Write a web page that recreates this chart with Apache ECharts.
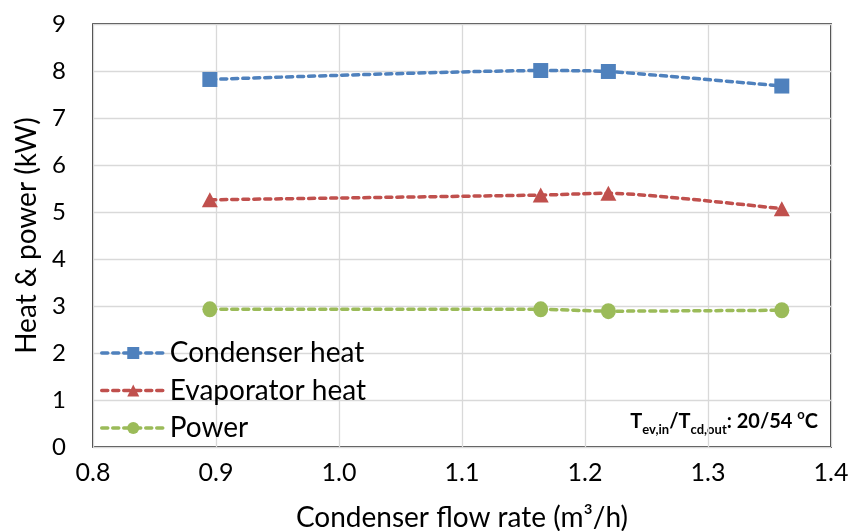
<!DOCTYPE html>
<html>
<head>
<meta charset="utf-8">
<script src="https://cdn.jsdelivr.net/npm/echarts@6/dist/echarts.min.js"></script>
<style>
  html, body { margin: 0; padding: 0; background: #fff; }
  #chart { width: 851px; height: 531px; }
</style>
</head>
<body>
<div id="chart"></div>
<script>
// Condenser flow rate (m3/h) for each test point
const flowRate = [0.895, 1.164, 1.219, 1.360];
// Measured heat and power (kW)
const condenserHeat = [7.82, 8.01, 7.99, 7.68];
const evaporatorHeat = [5.26, 5.36, 5.40, 5.07];
const power = [2.93, 2.93, 2.89, 2.91];

const seriesNames = ['Condenser heat', 'Evaporator heat', 'Power'];
const xTicks = { min: 0.8, max: 1.4, step: 0.1 };
const yTicks = { min: 0, max: 9, step: 1 };

const FONT = 'Lato';
const colors = ['#4F81BD', '#C0504D', '#9BBB59'];
const symbols = ['rect', 'triangle', 'circle'];
const symbolSizes = [[15, 15], [16, 15], [15, 16]];

function pairs(ys) { return flowRate.map((x, i) => [x, ys[i]]); }
const values = [condenserHeat, evaporatorHeat, power];

const chart = echarts.init(document.getElementById('chart'), null, { renderer: 'canvas' });

chart.setOption({
  animation: false,
  backgroundColor: '#fff',
  grid: {
    left: 93, top: 24, right: 20, bottom: 84,
    containLabel: false,
    outerBoundsMode: 'none',
    show: true, borderColor: '#000', borderWidth: 1.5
  },
  xAxis: {
    type: 'value',
    min: xTicks.min, max: xTicks.max, interval: xTicks.step,
    name: 'Condenser flow rate (m³/h)',
    nameLocation: 'middle', nameGap: 57,
    nameTextStyle: { fontFamily: FONT, fontSize: 28, color: '#000' },
    axisLine: { show: false },
    axisTick: { show: false },
    axisLabel: {
      fontFamily: FONT, fontSize: 25, color: '#000', margin: 13,
      formatter: v => v.toFixed(1)
    },
    splitLine: { show: true, lineStyle: { color: '#D9D9D9', width: 1.3 } }
  },
  yAxis: {
    type: 'value',
    min: yTicks.min, max: yTicks.max, interval: yTicks.step,
    name: 'Heat & power (kW)',
    nameLocation: 'middle', nameGap: 52,
    nameTextStyle: { fontFamily: FONT, fontSize: 28, color: '#000' },
    axisLine: { show: false },
    axisTick: { show: false },
    axisLabel: { fontFamily: FONT, fontSize: 24, color: '#000', margin: 27 },
    splitLine: { show: true, lineStyle: { color: '#D9D9D9', width: 1.3 } }
  },
  legend: {
    orient: 'vertical',
    left: 95, top: 334,
    itemWidth: 63, itemHeight: 15, itemGap: 9.5,
    lineStyle: { width: 3.5, type: [6, 5], cap: 'round' },
    textStyle: { fontFamily: FONT, fontSize: 28, color: '#000' },
    data: seriesNames
  },
  series: seriesNames.map((name, i) => ({
    name,
    type: 'line',
    data: pairs(values[i]),
    smooth: 0.2,
    symbol: symbols[i],
    symbolSize: symbolSizes[i],
    itemStyle: { color: colors[i] },
    lineStyle: { color: colors[i], width: 3.5, type: [6, 5], cap: 'round' },
    z: 3 - i
  })),
  graphic: [{
    type: 'text',
    right: 33, top: 408,
    style: {
      text: '{b|T}{s|ev,in}{b|/T}{s|cd,out}{b|: 20/54 }{p|o}{b|C}',
      rich: {
        b: { fontFamily: FONT, fontWeight: 'bold', fontSize: 20, color: '#000', verticalAlign: 'middle', lineHeight: 28 },
        s: { fontFamily: FONT, fontWeight: 'bold', fontSize: 13, color: '#000', verticalAlign: 'bottom', lineHeight: 28 },
        p: { fontFamily: FONT, fontWeight: 'bold', fontSize: 13, color: '#000', verticalAlign: 'top', lineHeight: 28 }
      }
    }
  }]
});
</script>
</body>
</html>
